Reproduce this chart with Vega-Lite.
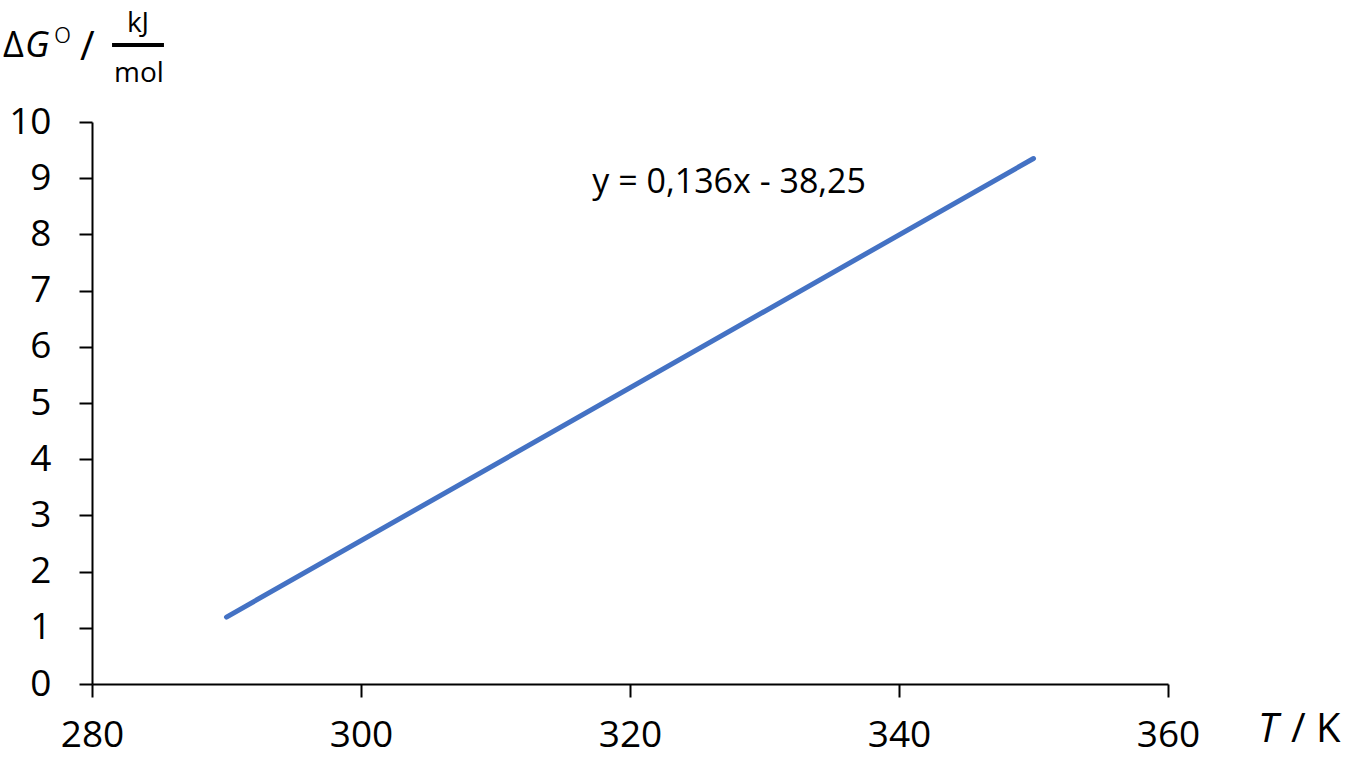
{
  "$schema": "https://vega.github.io/schema/vega-lite/v6.json",
  "width": 1076,
  "height": 562,
  "autosize": {"type": "none"},
  "padding": {"left": 92, "top": 122, "right": 186, "bottom": 76},
  "background": "white",
  "config": {
    "view": {"stroke": null},
    "font": "Open Sans",
    "axis": {"grid": false, "domainColor": "black", "domainWidth": 2, "tickColor": "black", "tickWidth": 2, "tickSize": 13, "labelFont": "Open Sans", "labelFontSize": 37, "labelColor": "black", "title": null}
  },
  "datasets": {
    "line": [{"T": 290, "dG": 1.19}, {"T": 350, "dG": 9.35}],
    "eq": [{"T": 317.2, "dG": 8.74, "label": "y = 0,136x - 38,25"}],
    "titleNormal": [{"T": 273.38, "dG": 11.16, "label": "Δ"}],
    "slash": [{"T": 279.1, "dG": 11.1, "label": "/"}],
    "titleItalic": [{"T": 275.02, "dG": 11.16, "label": "G"}],
    "degree": [{"T": 277.15, "dG": 11.41, "label": "o"}],
    "frac": [{"T": 283.42, "dG": 11.6, "label": "kJ"}, {"T": 283.49, "dG": 10.71, "label": "mol"}],
    "bar": [{"T": 281.49, "T2": 285.35, "dG": 11.37}],
    "xItalic": [{"T": 366.69, "dG": -1.032, "label": "T"}],
    "xNormal": [{"T": 369.14, "dG": -1.032, "label": "/ K"}]
  },
  "layer": [
    {
      "data": {"name": "line"},
      "mark": {"type": "line", "color": "#4472C4", "strokeWidth": 5, "strokeCap": "round"},
      "encoding": {
        "x": {"field": "T", "type": "quantitative", "scale": {"domain": [280, 360], "nice": false, "zero": false},
              "axis": {"values": [280, 300, 320, 340, 360], "format": "d", "labelPadding": 20, "labelFlush": false}},
        "y": {"field": "dG", "type": "quantitative", "scale": {"domain": [0, 10], "nice": false, "zero": false},
              "axis": {"values": [0, 1, 2, 3, 4, 5, 6, 7, 8, 9, 10], "format": "d", "labelPadding": 28, "labelFlush": false}}
      }
    },
    {
      "data": {"name": "eq"},
      "mark": {"type": "text", "align": "left", "baseline": "alphabetic", "fontSize": 34, "color": "black", "clip": false},
      "encoding": {"x": {"field": "T", "type": "quantitative"}, "y": {"field": "dG", "type": "quantitative"}, "text": {"field": "label"}}
    },
    {
      "data": {"name": "titleNormal"},
      "mark": {"type": "text", "align": "left", "baseline": "alphabetic", "fontSize": 36, "color": "black", "clip": false},
      "encoding": {"x": {"field": "T", "type": "quantitative"}, "y": {"field": "dG", "type": "quantitative"}, "text": {"field": "label"}}
    },
    {
      "data": {"name": "slash"},
      "mark": {"type": "text", "align": "left", "baseline": "alphabetic", "fontSize": 40, "color": "black", "clip": false},
      "encoding": {"x": {"field": "T", "type": "quantitative"}, "y": {"field": "dG", "type": "quantitative"}, "text": {"field": "label"}}
    },
    {
      "data": {"name": "titleItalic"},
      "mark": {"type": "text", "align": "left", "baseline": "alphabetic", "fontSize": 36, "fontStyle": "italic", "color": "black", "clip": false},
      "encoding": {"x": {"field": "T", "type": "quantitative"}, "y": {"field": "dG", "type": "quantitative"}, "text": {"field": "label"}}
    },
    {
      "data": {"name": "degree"},
      "mark": {"type": "text", "align": "left", "baseline": "alphabetic", "fontSize": 30, "fontWeight": 300, "color": "black", "clip": false},
      "encoding": {"x": {"field": "T", "type": "quantitative"}, "y": {"field": "dG", "type": "quantitative"}, "text": {"field": "label"}}
    },
    {
      "data": {"name": "frac"},
      "mark": {"type": "text", "align": "center", "baseline": "alphabetic", "fontSize": 28, "color": "black", "clip": false},
      "encoding": {"x": {"field": "T", "type": "quantitative"}, "y": {"field": "dG", "type": "quantitative"}, "text": {"field": "label"}}
    },
    {
      "data": {"name": "bar"},
      "mark": {"type": "rule", "color": "black", "strokeWidth": 4, "clip": false},
      "encoding": {"x": {"field": "T", "type": "quantitative"}, "x2": {"field": "T2"}, "y": {"field": "dG", "type": "quantitative"}}
    },
    {
      "data": {"name": "xItalic"},
      "mark": {"type": "text", "align": "left", "baseline": "alphabetic", "fontSize": 40, "fontStyle": "italic", "color": "black", "clip": false},
      "encoding": {"x": {"field": "T", "type": "quantitative"}, "y": {"field": "dG", "type": "quantitative"}, "text": {"field": "label"}}
    },
    {
      "data": {"name": "xNormal"},
      "mark": {"type": "text", "align": "left", "baseline": "alphabetic", "fontSize": 40, "color": "black", "clip": false},
      "encoding": {"x": {"field": "T", "type": "quantitative"}, "y": {"field": "dG", "type": "quantitative"}, "text": {"field": "label"}}
    }
  ]
}
